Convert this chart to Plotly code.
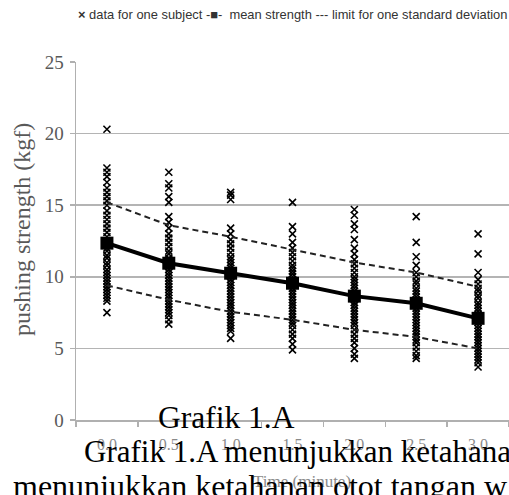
import plotly.graph_objects as go

# ---- data ----
time_labels = ["0.0", "0.5", "1.0", "1.5", "2.0", "2.5", "3.0"]

subj_t00 = [20.3, 17.6, 17.3, 17.0, 16.6, 16.2, 15.9, 15.6, 15.3, 15.0, 14.6, 14.3, 14.0, 13.7,
            13.4, 13.1, 12.8, 12.5, 12.3, 12.0, 11.8, 11.5, 11.3, 11.0, 10.8, 10.5, 10.3, 10.1,
            9.9, 9.7, 9.5, 9.3, 9.1, 8.9, 8.7, 8.5, 8.3, 7.5]
subj_t05 = [17.3, 16.5, 16.2, 15.6, 15.2, 14.2, 13.8, 13.4, 13.0, 12.7, 12.4, 12.1, 11.8, 11.6,
            11.3, 11.1, 10.9, 10.7, 10.5, 10.3, 10.1, 9.9, 9.7, 9.5, 9.3, 9.1, 8.9, 8.7, 8.5,
            8.3, 8.1, 7.9, 7.7, 7.5, 7.3, 7.0, 6.7]
subj_t10 = [15.9, 15.7, 15.4, 13.4, 13.0, 12.6, 12.3, 12.0, 11.7, 11.4, 11.2, 11.0, 10.8, 10.6,
            10.4, 10.2, 10.0, 9.8, 9.6, 9.4, 9.2, 9.0, 8.8, 8.6, 8.4, 8.2, 8.0, 7.8, 7.6, 7.4,
            7.2, 7.0, 6.8, 6.6, 6.4, 6.2, 5.7]
subj_t15 = [15.2, 13.5, 13.0, 12.4, 12.0, 11.7, 11.4, 11.1, 10.8, 10.6, 10.4, 10.2, 10.0, 9.8,
            9.6, 9.4, 9.2, 9.0, 8.8, 8.6, 8.4, 8.2, 8.0, 7.8, 7.6, 7.4, 7.2, 7.0, 6.8, 6.6, 6.3,
            6.0, 5.7, 5.3, 4.9]
subj_t20 = [14.7, 14.3, 13.7, 13.3, 12.6, 12.0, 11.6, 11.2, 10.9, 10.6, 10.3, 10.0, 9.8, 9.6,
            9.4, 9.2, 9.0, 8.8, 8.6, 8.4, 8.2, 8.0, 7.8, 7.6, 7.4, 7.2, 7.0, 6.8, 6.6, 6.3, 6.0,
            5.7, 5.4, 5.0, 4.6, 4.3]
subj_t25 = [14.2, 12.4, 11.4, 10.8, 10.3, 10.0, 9.7, 9.5, 9.2, 9.0, 8.8, 8.6, 8.4, 8.2, 8.0,
            7.8, 7.6, 7.4, 7.2, 7.0, 6.8, 6.6, 6.4, 6.2, 6.0, 5.8, 5.6, 5.4, 5.1, 4.8, 4.5, 4.3]
subj_t30 = [13.0, 11.6, 10.3, 9.8, 9.5, 9.2, 9.0, 8.7, 8.5, 8.2, 8.0, 7.8, 7.6, 7.4, 7.2, 7.0,
            6.8, 6.6, 6.4, 6.2, 6.0, 5.8, 5.6, 5.4, 5.2, 5.0, 4.8, 4.6, 4.4, 4.2, 4.0, 3.7]

mean_strength = [12.35, 10.95, 10.25, 9.55, 8.65, 8.15, 7.1]
upper_sd = [15.2, 13.6, 12.8, 11.9, 11.0, 10.3, 9.3]
lower_sd = [9.4, 8.4, 7.55, 7.0, 6.3, 5.8, 5.0]

legend_text = "<b>×</b> data for one subject -■-  mean strength --- limit for one standard deviation"
y_title = "pushing strength (kgf)"
x_title = "Time (minute)"
overlay_1 = "Grafik 1.A"
overlay_2 = "Grafik 1.A menunjukkan ketahanan"
overlay_3 = "menunjukkan ketahanan otot tangan w"

# ---- figure ----
subject_cols = [subj_t00, subj_t05, subj_t10, subj_t15, subj_t20, subj_t25, subj_t30]
sx, sy = [], []
for lab, col in zip(time_labels, subject_cols):
    sx += [lab] * len(col)
    sy += col

fig = go.Figure()
fig.add_trace(go.Scatter(
    x=sx, y=sy, mode="markers",
    marker=dict(symbol="x-thin", size=7, color="black", line=dict(color="black", width=1.6)),
    showlegend=False, cliponaxis=False))
fig.add_trace(go.Scatter(x=time_labels, y=upper_sd, mode="lines",
                         line=dict(color="#222222", width=2, dash="6px,4px"), showlegend=False))
fig.add_trace(go.Scatter(x=time_labels, y=lower_sd, mode="lines",
                         line=dict(color="#222222", width=2, dash="6px,4px"), showlegend=False))
fig.add_trace(go.Scatter(x=time_labels, y=mean_strength, mode="lines+markers",
                         line=dict(color="black", width=4),
                         marker=dict(symbol="square", size=13, color="black"),
                         showlegend=False))

W, H = 509, 495
L, T, R = 76, 62, 0
B = H - 420
pw, ph = W - L - R, H - T - B

def px(X):  # screen pixel -> paper x
    return (X - L) / pw

def py(Y):  # screen pixel -> paper y
    return (H - B - Y) / ph

serif = "Liberation Serif, Times New Roman, serif"

fig.update_layout(
    width=W, height=H,
    margin=dict(l=L, r=R, t=T, b=B, pad=0),
    paper_bgcolor="white", plot_bgcolor="white",
    showlegend=False,
    hovermode=False,
    xaxis=dict(type="category", tickson="boundaries", ticks="outside", ticklen=5,
               tickcolor="#b0b0b0", tickwidth=1.5, showline=True, linecolor="#b0b0b0",
               linewidth=1.5, showgrid=False, zeroline=False,
               tickfont=dict(family=serif, size=16, color="#8a8a8a"),
               ticklabelstandoff=9,
               range=[-0.5, 6.5]),
    yaxis=dict(range=[0, 25], dtick=5, ticks="outside", ticklen=5, tickcolor="#b0b0b0",
               tickwidth=1.5, showline=True, linecolor="#b0b0b0", linewidth=1.5,
               showgrid=True, gridcolor="#b4b4b4", gridwidth=1.5, zeroline=False,
               tickfont=dict(family=serif, size=19, color="#595959"),
               ticklabelstandoff=2),
    annotations=[
        dict(text=legend_text, xref="paper", yref="paper", x=px(76), y=py(15),
             xanchor="left", yanchor="middle", showarrow=False,
             font=dict(family="Liberation Sans, Arial, sans-serif", size=12.9, color="#333333")),
        dict(text=y_title, xref="paper", yref="paper", x=px(22), y=py(230),
             xanchor="center", yanchor="middle", textangle=-90, showarrow=False,
             font=dict(family=serif, size=24, color="#595959")),
        dict(text=x_title, xref="paper", yref="paper", x=px(302), y=py(481),
             xanchor="center", yanchor="middle", showarrow=False,
             font=dict(family=serif, size=17, color="#8a8a8a")),
        dict(text=overlay_1, xref="paper", yref="paper", x=px(156), y=py(417),
             xanchor="left", yanchor="middle", showarrow=False,
             font=dict(family=serif, size=31.5, color="black")),
        dict(text=overlay_2, xref="paper", yref="paper", x=px(82), y=py(452),
             xanchor="left", yanchor="middle", showarrow=False,
             font=dict(family=serif, size=31, color="black")),
        dict(text=overlay_3, xref="paper", yref="paper", x=px(11), y=py(486),
             xanchor="left", yanchor="middle", showarrow=False,
             font=dict(family=serif, size=32, color="black")),
    ],
)

fig.write_html("out.html", config={"displayModeBar": False, "staticPlot": True},
               post_script="document.body.style.margin='0px';document.body.style.overflow='hidden';")
